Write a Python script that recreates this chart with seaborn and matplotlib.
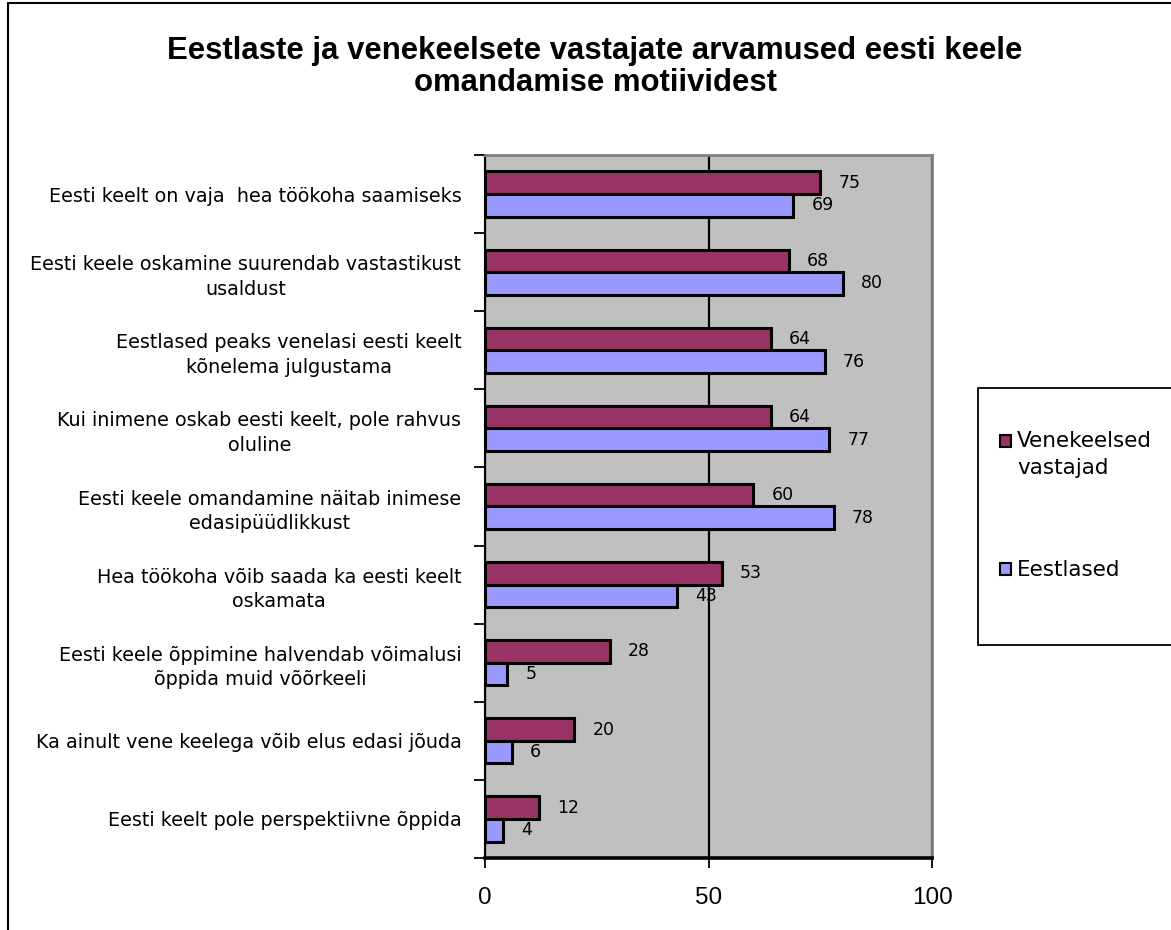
import matplotlib
matplotlib.use("Agg")
import matplotlib.pyplot as plt
from matplotlib.lines import Line2D
from matplotlib.patches import Rectangle, Patch
from matplotlib.legend_handler import HandlerPatch
import numpy as np
import pandas as pd
import seaborn as sns

categories = [
    "Eesti keelt on vaja  hea töökoha saamiseks",
    "Eesti keele oskamine suurendab vastastikust\nusaldust",
    "Eestlased peaks venelasi eesti keelt\nkõnelema julgustama",
    "Kui inimene oskab eesti keelt, pole rahvus\noluline",
    "Eesti keele omandamine näitab inimese\nedasipüüdlikkust",
    "Hea töökoha võib saada ka eesti keelt\noskamata",
    "Eesti keele õppimine halvendab võimalusi\nõppida muid võõrkeeli",
    "Ka ainult vene keelega võib elus edasi jõuda",
    "Eesti keelt pole perspektiivne õppida",
]
venekeelsed = [75, 68, 64, 64, 60, 53, 28, 20, 12]
eestlased = [69, 80, 76, 77, 78, 43, 5, 6, 4]
series_names = ["Venekeelsed\nvastajad", "Eestlased"]
series_colors = ["#993366", "#9999FF"]
x_ticks = [0, 50, 100]
title = "Eestlaste ja venekeelsete vastajate arvamused eesti keele\nomandamise motiividest"

df = pd.DataFrame({
    "kategooria": categories * 2,
    "protsent": venekeelsed + eestlased,
    "grupp": [series_names[0]] * len(categories) + [series_names[1]] * len(categories),
})

sns.set_theme(style="white")
plt.rcParams["font.family"] = ["Liberation Sans", "DejaVu Sans"]
plt.rcParams["text.color"] = "black"
plt.rcParams["xtick.color"] = "black"
plt.rcParams["ytick.color"] = "black"
plt.rcParams["xtick.labelcolor"] = "black"
plt.rcParams["ytick.labelcolor"] = "black"

W, H = 1171, 930
fig = plt.figure(figsize=(W / 100, H / 100), dpi=100)
fig.patch.set_facecolor("white")

left, right, top, bottom = 485, 932, 155, 858
ax = fig.add_axes([left / W, 1 - bottom / H, (right - left) / W, (bottom - top) / H])
ax.set_facecolor("#C0C0C0")

sns.barplot(
    data=df, y="kategooria", x="protsent", hue="grupp", orient="h",
    hue_order=series_names, palette=series_colors, width=0.58, saturation=1,
    edgecolor="black", linewidth=2.2, ax=ax, legend=False, zorder=3,
)

ax.set_xlim(0, 100)
ax.set_ylim(len(categories) - 0.5, -0.5)
ax.set_xlabel("")
ax.set_ylabel("")
ax.set_xticks(x_ticks)
ax.set_xticklabels([str(t) for t in x_ticks])

# vertical grid line at the middle value
ax.xaxis.grid(True, color="black", linewidth=1.6)
for gl in ax.get_xgridlines():
    gl.set_zorder(2)

# category ticks on the band boundaries
ax.set_yticks(np.arange(len(categories) + 1) - 0.5, minor=True)
ax.tick_params(axis="y", which="minor", length=8, width=1.3, color="black", left=True)
ax.tick_params(axis="y", which="major", length=0, pad=17)
ax.tick_params(axis="x", which="major", length=7, width=1.3, color="black",
               bottom=True, pad=14, labelsize=17.5)
for lbl in ax.get_yticklabels():
    lbl.set_multialignment("center")
    lbl.set_family("DejaVu Sans")
    lbl.set_fontsize(13.8)
    lbl.set_linespacing(1.36)

for side in ["top", "right"]:
    ax.spines[side].set_color("#808080")
    ax.spines[side].set_linewidth(2.0)
ax.spines["left"].set_color("black")
ax.spines["left"].set_linewidth(1.5)
ax.spines["bottom"].set_color("black")
ax.spines["bottom"].set_linewidth(2.6)

for cont in ax.containers:
    texts = ax.bar_label(cont, padding=13, fontsize=12.5, color="black",
                         family="DejaVu Sans")
    for t in texts:
        t.set_zorder(1)

fig.text(595 / W, 1 - 67 / H, title, ha="center", va="center",
         fontsize=22.4, fontweight="bold", linespacing=1.12)

# chart frame
fig.add_artist(Line2D([8 / W, 8 / W], [0, 1 - 3 / H], color="black", linewidth=1.5,
                      transform=fig.transFigure))
fig.add_artist(Line2D([8 / W, 1], [1 - 3 / H, 1 - 3 / H], color="black", linewidth=1.5,
                      transform=fig.transFigure))

# legend box
fig.add_artist(Rectangle((978 / W, 1 - 645 / H), (W - 978 + 20) / W, (645 - 388) / H,
                         transform=fig.transFigure, facecolor="white",
                         edgecolor="black", linewidth=1.3, clip_on=False))

legend_size = 15.5
line_gap_pt = 27 * 0.72


def first_line_patch(legend, orig_handle, xdescent, ydescent, width, height, fontsize):
    # key square aligned with the first line of a two-line label
    return Rectangle((-xdescent, -ydescent + line_gap_pt / 2), width, height)


handles = [Patch(facecolor=c, edgecolor="black", linewidth=1.5) for c in series_colors]
leg = fig.legend(handles, series_names, loc="upper left",
                 bbox_to_anchor=(1000 / W, 1 - 431 / H), frameon=False,
                 prop={"family": "DejaVu Sans", "size": legend_size},
                 handlelength=0.5, handleheight=0.5, handletextpad=0.3,
                 labelspacing=3.85, borderaxespad=0, borderpad=0,
                 handler_map={handles[0]: HandlerPatch(patch_func=first_line_patch)})
for t in leg.get_texts():
    t.set_linespacing(1.41)

fig.savefig("out.png", dpi=100, facecolor="white")
